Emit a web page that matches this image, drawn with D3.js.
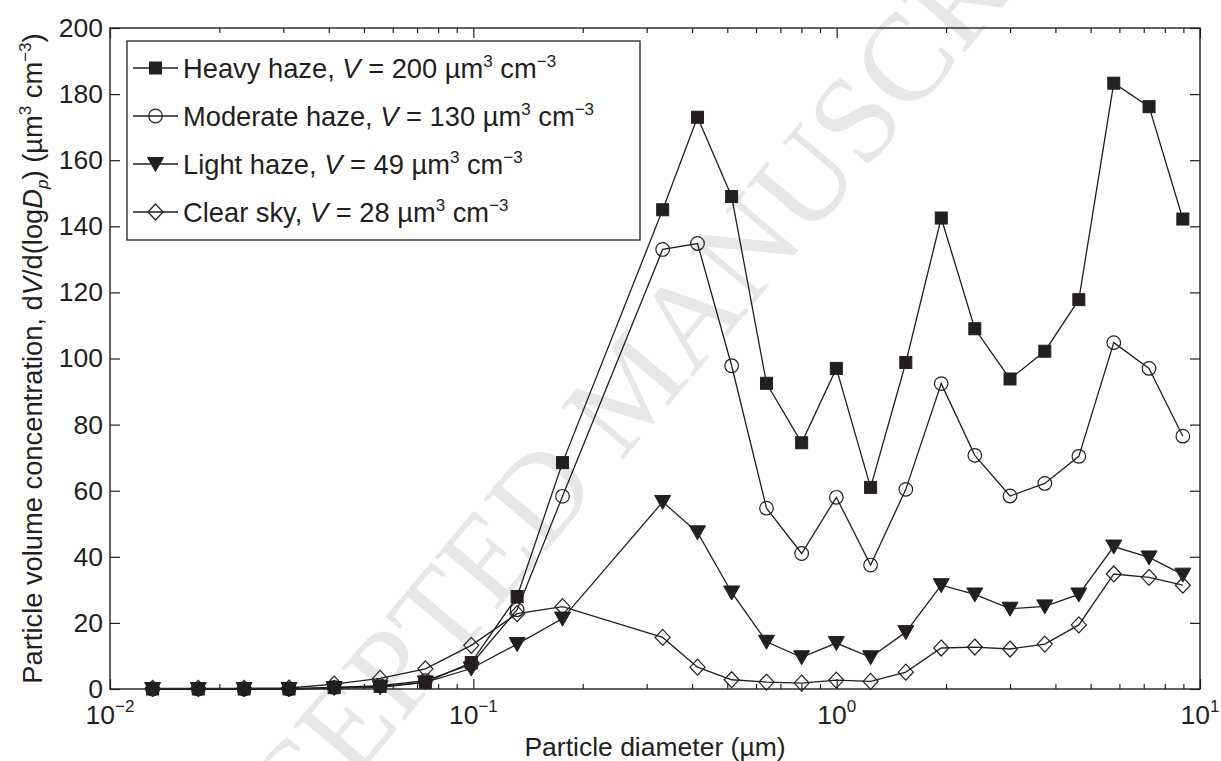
<!DOCTYPE html>
<html>
<head>
<meta charset="utf-8">
<script src="https://cdn.jsdelivr.net/npm/d3@7"></script>
<style>
  body { margin: 0; background: #fff; }
  text { font-family: Arial, "Liberation Sans", Helvetica, sans-serif; fill: #231f20; }
</style>
</head>
<body>
<svg id="chart" width="1221" height="761"></svg>
<script>
// particle diameter (um), channel midpoints
const diameters = [0.0131, 0.0175, 0.0234, 0.0311, 0.0414, 0.0554, 0.0738, 0.0987, 0.132, 0.176,
  0.332, 0.414, 0.514, 0.641, 0.801, 0.998, 1.24, 1.55, 1.94, 2.40, 3.00, 3.74, 4.64, 5.79, 7.24, 8.97];

// dV/dlogDp (um3 cm-3)
const heavyHaze = [0, 0, 0, 0, 0.4, 0.8, 2, 8, 28, 68.5,
  145, 173, 149, 92.5, 74.5, 97, 61, 98.8, 142.5, 109, 93.8, 102.2, 117.8, 183.3, 176.2, 142.2];
const moderateHaze = [0, 0, 0, 0, 0.5, 1, 2.5, 7.5, 24, 58.3,
  133, 134.8, 97.8, 54.7, 41, 58, 37.5, 60.4, 92.4, 70.7, 58.4, 62.2, 70.4, 104.8, 97, 76.5];
const lightHaze = [0, 0, 0, 0, 0.3, 0.5, 2, 6.2, 13.6, 21.3,
  56.6, 47.4, 29.2, 14.3, 9.6, 13.9, 9.6, 17.2, 31.4, 28.6, 24.3, 25, 28.6, 43.1, 39.8, 34.6];
const clearSky = [0.2, 0.2, 0.2, 0.3, 1.5, 3.2, 6.1, 13.2, 22.8, 24.9,
  15.6, 6.6, 2.8, 2.1, 1.8, 2.7, 2.3, 5.1, 12.4, 12.7, 12.1, 13.6, 19.4, 34.8, 33.8, 31.4];

const seriesNames = ["Heavy haze", "Moderate haze", "Light haze", "Clear sky"];
const seriesVolumes = ["200", "130", "49", "28"];
const seriesMarkers = ["square", "circle", "triangle", "diamond"];

const yTicks = [0, 20, 40, 60, 80, 100, 120, 140, 160, 180, 200];
const xDecades = [0.01, 0.1, 1, 10];
const xDecadeExps = ["\u22122", "\u22121", "0", "1"];

const ink = "#231f20";
const svg = d3.select("#chart");
const plot = {left: 110, right: 1200, top: 28, bottom: 689};

const x = d3.scaleLog().domain([0.01, 10]).range([plot.left, plot.right]);
const y = d3.scaleLinear().domain([0, 200]).range([plot.bottom, plot.top]);

// watermark (lies past the page edges in the source too)
svg.append("text")
  .attr("transform", "translate(640,395) rotate(-50)")
  .attr("text-anchor", "middle")
  .attr("dominant-baseline", "middle")
  .style("font-family", "'Liberation Serif', 'Times New Roman', serif")
  .style("font-size", "124px")
  .style("fill", "#e7e7e7")
  .text("ACCEPTED MANUSCRIPT");

// minor tick values for log axis
let minorTicks = [];
[0.01, 0.1, 1].forEach(function (d) {
  for (let k = 2; k < 10; k++) minorTicks.push(d * k);
});

function styleAxis(g) {
  g.select(".domain").remove();
  g.selectAll("line").attr("stroke", ink).attr("stroke-width", 1.2);
}

// bottom / top axes (ticks inward)
svg.append("g").attr("transform", "translate(0," + plot.bottom + ")")
  .call(d3.axisBottom(x).tickValues(xDecades).tickSize(-10).tickFormat(""))
  .call(styleAxis);
svg.append("g").attr("transform", "translate(0," + plot.bottom + ")")
  .call(d3.axisBottom(x).tickValues(minorTicks).tickSize(-5).tickFormat(""))
  .call(styleAxis);
svg.append("g").attr("transform", "translate(0," + plot.top + ")")
  .call(d3.axisTop(x).tickValues(xDecades).tickSize(-10).tickFormat(""))
  .call(styleAxis);
svg.append("g").attr("transform", "translate(0," + plot.top + ")")
  .call(d3.axisTop(x).tickValues(minorTicks).tickSize(-5).tickFormat(""))
  .call(styleAxis);

// left / right axes
const yLeft = svg.append("g").attr("transform", "translate(" + plot.left + ",0)")
  .call(d3.axisLeft(y).tickValues(yTicks).tickSize(-10).tickPadding(7))
  .call(styleAxis);
yLeft.selectAll("text").style("font-size", "26.5px").style("font-family", null).attr("fill", ink);
svg.append("g").attr("transform", "translate(" + plot.right + ",0)")
  .call(d3.axisRight(y).tickValues(yTicks).tickSize(-10).tickFormat(""))
  .call(styleAxis);

// frame
svg.append("rect")
  .attr("x", plot.left).attr("y", plot.top)
  .attr("width", plot.right - plot.left).attr("height", plot.bottom - plot.top)
  .attr("fill", "none").attr("stroke", ink).attr("stroke-width", 1.4);

// decade labels 10^n
const xl = svg.selectAll(".xlab").data(xDecades).enter().append("text")
  .attr("class", "xlab")
  .attr("x", d => x(d))
  .attr("y", 724)
  .attr("text-anchor", "middle")
  .style("font-size", "26.5px");
xl.append("tspan").text("10");
xl.append("tspan").attr("dy", -12).style("font-size", "17px").text((d, i) => xDecadeExps[i]);

// axis titles
svg.append("text")
  .attr("x", (plot.left + plot.right) / 2).attr("y", 756)
  .attr("text-anchor", "middle")
  .style("font-size", "26.5px")
  .text("Particle diameter (\u00b5m)");

const yt = svg.append("text")
  .attr("transform", "translate(42," + ((plot.top + plot.bottom) / 2) + ") rotate(-90)")
  .attr("text-anchor", "middle")
  .style("font-size", "27.3px");
yt.append("tspan").text("Particle volume concentration, d");
yt.append("tspan").style("font-style", "italic").text("V");
yt.append("tspan").text("/d(log");
yt.append("tspan").style("font-style", "italic").text("D");
yt.append("tspan").style("font-style", "italic").style("font-size", "17px").attr("dy", 6).text("p");
yt.append("tspan").attr("dy", -6).text(") (\u00b5m");
yt.append("tspan").style("font-size", "17px").attr("dy", -11).text("3");
yt.append("tspan").attr("dy", 11).text(" cm");
yt.append("tspan").style("font-size", "17px").attr("dy", -11).text("\u22123");
yt.append("tspan").attr("dy", 11).text(")");

// markers
function drawMarker(g, type, cx, cy) {
  if (type === "square") {
    g.append("rect").attr("x", cx - 6).attr("y", cy - 6).attr("width", 12).attr("height", 12)
      .attr("fill", ink).attr("stroke", ink).attr("stroke-width", 1);
  } else if (type === "circle") {
    g.append("circle").attr("cx", cx).attr("cy", cy).attr("r", 6.8)
      .attr("fill", "none").attr("stroke", ink).attr("stroke-width", 1.2);
  } else if (type === "triangle") {
    g.append("path").attr("d", "M" + (cx - 8) + "," + (cy - 6.5) + "L" + (cx + 8) + "," + (cy - 6.5) + "L" + cx + "," + (cy + 7.5) + "Z")
      .attr("fill", ink).attr("stroke", ink).attr("stroke-width", 1);
  } else {
    g.append("path").attr("d", "M" + cx + "," + (cy - 8) + "L" + (cx + 7.5) + "," + cy + "L" + cx + "," + (cy + 8) + "L" + (cx - 7.5) + "," + cy + "Z")
      .attr("fill", "none").attr("stroke", ink).attr("stroke-width", 1.2);
  }
}

const allSeries = [heavyHaze, moderateHaze, lightHaze, clearSky];
const line = d3.line().x(d => x(d[0])).y(d => y(d[1]));

allSeries.forEach(function (vals, s) {
  const pts = diameters.map((d, i) => [d, vals[i]]);
  const g = svg.append("g").attr("class", "series");
  g.append("path").attr("d", line(pts))
    .attr("fill", "none").attr("stroke", ink).attr("stroke-width", 1.3);
  pts.forEach(p => drawMarker(g, seriesMarkers[s], x(p[0]), y(p[1])));
});

// legend
const leg = svg.append("g");
leg.append("rect").attr("x", 127).attr("y", 41).attr("width", 513).attr("height", 199)
  .attr("fill", "#fff").attr("stroke", ink).attr("stroke-width", 1.3);
seriesNames.forEach(function (name, i) {
  const cy = 68 + 48 * i;
  leg.append("line").attr("x1", 133).attr("x2", 178).attr("y1", cy).attr("y2", cy)
    .attr("stroke", ink).attr("stroke-width", 1.3);
  drawMarker(leg, seriesMarkers[i], 155.5, cy);
  const t = leg.append("text").attr("x", 183).attr("y", cy + 9.5).style("font-size", "27.3px");
  t.append("tspan").text(name + ", ");
  t.append("tspan").style("font-style", "italic").text("V");
  t.append("tspan").text(" = " + seriesVolumes[i] + " \u00b5m");
  t.append("tspan").style("font-size", "17px").attr("dy", -11).text("3");
  t.append("tspan").attr("dy", 11).text(" cm");
  t.append("tspan").style("font-size", "17px").attr("dy", -11).text("\u22123");
});
</script>
</body>
</html>
